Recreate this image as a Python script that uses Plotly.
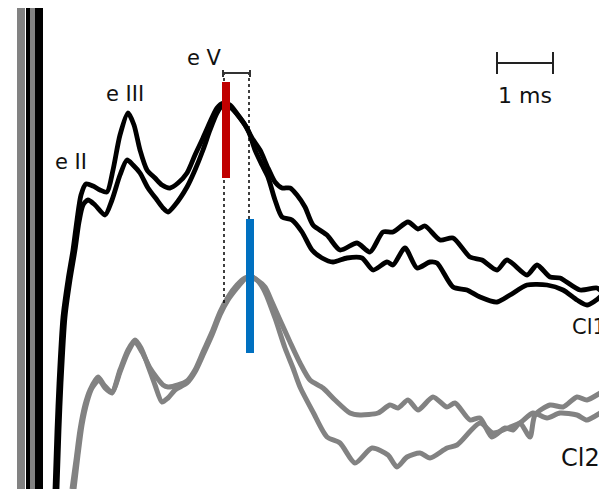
import plotly.graph_objects as go

# time axis in samples (56 samples = 1 ms), amplitude in arbitrary units
t_cl1_a = [55, 57, 59, 63, 68, 73, 77, 81, 86, 93, 100, 107, 113, 120, 128, 134, 140, 147, 155, 162,
           170, 178, 187, 195, 203, 210, 217, 223, 230, 238, 245, 252, 260, 268, 275, 282, 290, 297,
           305, 313, 327, 340, 357, 370, 383, 393, 408, 418, 425, 440, 453, 470, 482, 497, 507, 527,
           537, 550, 560, 580, 597, 603]
v_cl1_a = [0, 59, 106, 172, 209, 239, 269, 294, 305, 303, 299, 297, 319, 354, 376, 364, 339, 319, 311, 304,
           301, 306, 316, 334, 351, 367, 381, 386, 384, 374, 364, 351, 339, 321, 307, 301, 301, 294,
           282, 264, 254, 239, 246, 237, 257, 257, 267, 260, 263, 249, 251, 232, 229, 219, 229, 214,
           224, 212, 211, 199, 201, 196]

t_cl1_b = [57, 59, 61, 65, 70, 75, 79, 83, 88, 95, 105, 112, 120, 127, 133, 140, 148, 157, 163, 168,
           175, 187, 195, 203, 210, 217, 223, 230, 240, 248, 255, 262, 268, 275, 282, 292, 302, 312,
           322, 333, 347, 362, 373, 387, 393, 405, 417, 430, 437, 453, 467, 480, 497, 510, 527, 547,
           563, 577, 587, 600, 603]
v_cl1_b = [0, 59, 106, 172, 209, 239, 267, 284, 289, 284, 274, 289, 314, 329, 324, 316, 301, 289, 281, 277,
           284, 302, 319, 339, 359, 376, 384, 382, 371, 359, 339, 324, 312, 289, 272, 269, 257, 239,
           231, 227, 231, 231, 219, 227, 224, 241, 221, 227, 226, 202, 199, 192, 187, 194, 204, 204,
           199, 189, 184, 192, 197]

t_cl2_a = [72, 76, 80, 85, 90, 98, 104, 112, 120, 128, 135, 141, 147, 155, 162, 168, 175, 187, 195, 203,
           212, 220, 228, 237, 245, 250, 257, 265, 272, 280, 290, 300, 310, 323, 335, 350, 360, 378,
           390, 398, 408, 418, 433, 447, 455, 470, 480, 492, 505, 513, 520, 530, 535, 550, 563, 577,
           587, 602, 607]
v_cl2_a = [0, 29, 59, 84, 99, 112, 104, 97, 119, 139, 149, 141, 126, 104, 87, 91, 99, 106, 117, 134,
           154, 174, 189, 201, 210, 212, 209, 202, 187, 169, 147, 126, 109, 101, 89, 76, 74, 76,
           84, 81, 89, 79, 92, 82, 86, 69, 71, 52, 61, 59, 66, 52, 74, 84, 82, 92,
           89, 97, 99]

t_cl2_b = [74, 78, 82, 87, 92, 99, 105, 112, 120, 128, 135, 142, 150, 157, 163, 168, 178, 187, 195, 203,
           212, 220, 228, 237, 245, 252, 258, 265, 275, 285, 293, 300, 313, 327, 340, 355, 372, 388,
           397, 407, 420, 430, 447, 457, 480, 493, 508, 520, 533, 547, 560, 577, 587, 602, 607]
v_cl2_b = [0, 34, 64, 87, 101, 109, 101, 96, 117, 137, 147, 137, 121, 111, 104, 102, 104, 108, 119, 137,
           157, 177, 192, 204, 211, 212, 208, 197, 171, 141, 121, 102, 77, 52, 46, 26, 41, 34,
           22, 32, 36, 31, 41, 44, 66, 56, 61, 66, 76, 71, 76, 74, 69, 77, 79]

# stimulus artifact bands
artifact_t = [21, 28, 32.5, 39]
artifact_top = 482
# latency markers (wave V peaks)
peak_cl1_t = 226
peak_cl1_span = [311, 407]
peak_cl2_t = 250
peak_cl2_span = [136, 270]
dot_left_t = 224
dot_left_span = [186, 416]
dot_right_t = 249
dot_right_span = [270, 416]
bracket_t = [223, 250]
bracket_v = 416
scalebar_t = [497, 553]
scalebar_v = 426

labels = ["e II", "e III", "e V", "1 ms", "Cl1", "Cl2"]
label_t = [71, 125, 204, 525, 570, 559]
label_v = [327, 395, 431, 394, 162, 31]

BLACK = "#000000"
GRAY = "#828282"
fig = go.Figure()

art_colors = [GRAY, BLACK, GRAY, BLACK]
art_widths = [8, 4, 5, 8]
for x, c, w in zip(artifact_t, art_colors, art_widths):
    fig.add_trace(go.Scatter(x=[x, x], y=[0, artifact_top], mode="lines",
                             line=dict(color=c, width=w), hoverinfo="skip"))

for t, v in [(t_cl2_a, v_cl2_a), (t_cl2_b, v_cl2_b)]:
    fig.add_trace(go.Scatter(x=t, y=v, mode="lines",
                             line=dict(color=GRAY, width=5, shape="spline", smoothing=0.7)))
for t, v in [(t_cl1_a, v_cl1_a), (t_cl1_b, v_cl1_b)]:
    fig.add_trace(go.Scatter(x=t, y=v, mode="lines",
                             line=dict(color=BLACK, width=4.8, shape="spline", smoothing=0.7)))

# dotted latency lines
fig.add_trace(go.Scatter(x=[dot_left_t, dot_left_t], y=dot_left_span, mode="lines",
                         line=dict(color=BLACK, width=1.5, dash="dot")))
fig.add_trace(go.Scatter(x=[dot_right_t, dot_right_t], y=dot_right_span, mode="lines",
                         line=dict(color=BLACK, width=1.5, dash="dot")))
# bracket
fig.add_trace(go.Scatter(x=[bracket_t[0], bracket_t[0], None, bracket_t[0], bracket_t[1], None, bracket_t[1], bracket_t[1]],
                         y=[bracket_v - 4, bracket_v + 3, None, bracket_v, bracket_v, None, bracket_v - 4, bracket_v + 3],
                         mode="lines", line=dict(color="#333333", width=2)))
# peak bars
fig.add_trace(go.Scatter(x=[peak_cl1_t, peak_cl1_t], y=peak_cl1_span, mode="lines",
                         line=dict(color="#c00000", width=8)))
fig.add_trace(go.Scatter(x=[peak_cl2_t, peak_cl2_t], y=peak_cl2_span, mode="lines",
                         line=dict(color="#0070c0", width=8)))
# scale bar
fig.add_trace(go.Scatter(x=[scalebar_t[0], scalebar_t[0], None, scalebar_t[0], scalebar_t[1], None, scalebar_t[1], scalebar_t[1]],
                         y=[scalebar_v - 11, scalebar_v + 11, None, scalebar_v, scalebar_v, None, scalebar_v - 11, scalebar_v + 11],
                         mode="lines", line=dict(color="#222222", width=2)))

sizes = [21, 21, 21, 22, 21, 24]
anchors = ["center", "center", "center", "center", "left", "left"]
for txt, x, y, s, a in zip(labels, label_t, label_v, sizes, anchors):
    fig.add_annotation(x=x, y=y, text=txt, showarrow=False, xanchor=a, yanchor="middle",
                       font=dict(family="DejaVu Sans", size=s, color="#111111"))

# the page body has an 8px margin: size the figure so the view spans the window
fig.update_layout(width=599, height=481, margin=dict(l=0, r=0, t=0, b=0),
                  paper_bgcolor="white", plot_bgcolor="white", showlegend=False)
fig.update_xaxes(range=[8, 607], visible=False, fixedrange=True)
fig.update_yaxes(range=[0, 481], visible=False, fixedrange=True)
fig.write_html("out.html")
